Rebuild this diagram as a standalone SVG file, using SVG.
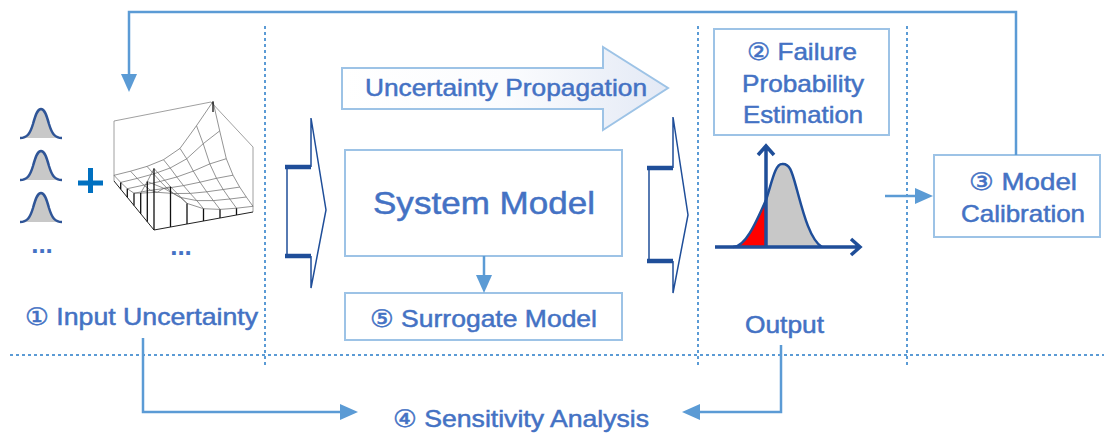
<svg xmlns="http://www.w3.org/2000/svg" width="1104" height="436" viewBox="0 0 1104 436">
<style>
.t{font-family:"Liberation Sans","DejaVu Sans",Arial,sans-serif;fill:#4472c4;stroke:#4472c4;stroke-width:0.5;font-size:24px}
.box{fill:#fff;stroke:#9dc3e6;stroke-width:2}
.conn{fill:none;stroke:#5b9bd5;stroke-width:2.5}
.dot{fill:none;stroke:#5b9bd5;stroke-width:2;stroke-dasharray:3 3}
.chev{fill:none;stroke:#1f4e99;stroke-width:1.5}
.chevb{stroke:#1f4e99;stroke-width:4.5}
.mesh{fill:none;stroke:#666;stroke-width:0.7}
.drop{stroke:#111;stroke-width:1.3}
.dots{font-family:"Liberation Sans",Arial,sans-serif;font-weight:bold;font-size:26px;fill:#4472c4}
</style>
<defs>
<marker id="ah" viewBox="0 0 18 16" refX="0" refY="8" markerWidth="18" markerHeight="16" markerUnits="userSpaceOnUse" orient="auto">
<path d="M0,0 L18,8 L0,16 Z" fill="#5b9bd5"/>
</marker>
<linearGradient id="pg" x1="0" y1="0" x2="1" y2="0">
<stop offset="0" stop-color="#ffffff"/>
<stop offset="0.5" stop-color="#fbfcfe"/>
<stop offset="1" stop-color="#e3e9f5"/>
</linearGradient>
<g id="bell">
<path d="M20,138 C27,138 30,134 33,124 C36,113 38,109 41,109 C44,109 46,113 49,124 C52,134 55,138 62,138 Z" fill="#c8c8c8"/>
<path d="M20,138 C27,138 30,134 33,124 C36,113 38,109 41,109 C44,109 46,113 49,124 C52,134 55,138 62,138" fill="none" stroke="#2f5597" stroke-width="2.5"/>
</g>
<clipPath id="redclip"><rect x="700" y="140" width="66" height="110"/></clipPath>
</defs>

<g id="separators">
<line class="dot" x1="265" y1="26" x2="265" y2="368"/>
<line class="dot" x1="698" y1="26" x2="698" y2="368"/>
<line class="dot" x1="907" y1="26" x2="907" y2="368"/>
<line class="dot" x1="10" y1="355" x2="1104" y2="355"/>
</g>

<g id="input-uncertainty">
<use href="#bell"/>
<use href="#bell" y="42"/>
<use href="#bell" y="84"/>
<text class="dots" x="42" y="253" text-anchor="middle">...</text>
<rect x="78" y="180.5" width="25" height="5" fill="#0070c0"/>
<rect x="88" y="168" width="5" height="25" fill="#0070c0"/>
<g id="surface-plot">
<path d="M114,181 V121 L211,102 L253,147 V212" fill="none" stroke="#888" stroke-width="0.8"/>
<path d="M114,181 L154,230 L253,212" fill="none" stroke="#222" stroke-width="1"/>
<path class="mesh" d="M114,175.3 L130.5,171.2 L147,166.4 L163.5,159.7 L180,148.4 L196.5,125.7 L213,101.5
M120.7,182.4 L137.2,178.4 L153.7,173.9 L170.2,168 L186.7,158.8 L203.2,143.7 L219.7,130.9
M127.3,188.7 L143.8,185.1 L160.3,181.4 L176.8,177 L193.3,171.1 L209.8,163.9 L226.3,158.7
M134,193.2 L150.5,190.3 L167,188.2 L183.5,185.6 L200,182.2 L216.5,178.3 L233,175.2
M140.7,193.1 L157.2,192.3 L173.7,193.5 L190.2,193.4 L206.7,191.8 L223.2,189.5 L239.7,187.1
M147.3,181.5 L163.8,188.3 L180.3,197.4 L196.8,200.6 L213.3,200.6 L229.8,199 L246.3,197
M154,168.5 L170.5,186.7 L187,203.4 L203.5,208.7 L220,209.4 L236.5,208.2 L253,206.3
M114,175.3 L120.7,182.4 L127.3,188.7 L134,193.2 L140.7,193.1 L147.3,181.5 L154,168.5
M130.5,171.2 L137.2,178.4 L143.8,185.1 L150.5,190.3 L157.2,192.3 L163.8,188.3 L170.5,186.7
M147,166.4 L153.7,173.9 L160.3,181.4 L167,188.2 L173.7,193.5 L180.3,197.4 L187,203.4
M163.5,159.7 L170.2,168 L176.8,177 L183.5,185.6 L190.2,193.4 L196.8,200.6 L203.5,208.7
M180,148.4 L186.7,158.8 L193.3,171.1 L200,182.2 L206.7,191.8 L213.3,200.6 L220,209.4
M196.5,125.7 L203.2,143.7 L209.8,163.9 L216.5,178.3 L223.2,189.5 L229.8,199 L236.5,208.2
M213,101.5 L219.7,130.9 L226.3,158.7 L233,175.2 L239.7,187.1 L246.3,197 L253,206.3"/>
<path class="drop" d="M120.7,182.4 V189.2 M127.3,188.7 V197.3 M134,193.2 V205.5 M140.7,193.1 V213.7 M147.3,181.5 V221.8 M154,168.5 V230 M170.5,186.7 V227 M187,203.4 V224 M203.5,208.7 V221 M220,209.4 V218 M236.5,208.2 V215 M213,101.5 V112"/>
</g>
<text class="dots" x="181" y="255" text-anchor="middle">...</text>
<text class="t" x="25" y="325" textLength="233" lengthAdjust="spacingAndGlyphs">① Input Uncertainty</text>
</g>

<g id="in-chevron">
<path class="chev" d="M311,167 V118 L326,210 L311,288 V256"/>
<path class="chev" d="M287,167 V256" stroke-width="1.2"/>
<line class="chevb" x1="285" y1="167" x2="311" y2="167"/>
<line class="chevb" x1="285" y1="256" x2="311" y2="256"/>
</g>

<g id="uncertainty-propagation">
<path d="M342,68 H603 V47 L668,88 L603,130 V109 H342 Z" fill="url(#pg)" stroke="#9dc3e6" stroke-width="2"/>
<text class="t" x="365" y="96" textLength="282" lengthAdjust="spacingAndGlyphs">Uncertainty Propagation</text>
</g>

<g id="system-model">
<rect class="box" x="345" y="150" width="277" height="106"/>
<text class="t" x="373" y="214" style="font-size:32px" textLength="222" lengthAdjust="spacingAndGlyphs">System Model</text>
</g>

<g id="surrogate-model">
<rect class="box" x="345" y="293" width="277" height="47"/>
<text class="t" x="370" y="327" textLength="227" lengthAdjust="spacingAndGlyphs">⑤ Surrogate Model</text>
</g>

<g id="out-chevron">
<path class="chev" d="M673,168 V117 L688,215 L673,293 V261"/>
<path class="chev" d="M649,168 V261" stroke-width="1.2"/>
<line class="chevb" x1="647" y1="168" x2="673" y2="168"/>
<line class="chevb" x1="647" y1="261" x2="673" y2="261"/>
</g>

<g id="failure-probability">
<rect class="box" x="714" y="29" width="175" height="106"/>
<text class="t" x="747" y="60" textLength="110" lengthAdjust="spacingAndGlyphs">② Failure</text>
<text class="t" x="742" y="92" textLength="122" lengthAdjust="spacingAndGlyphs">Probability</text>
<text class="t" x="743" y="123" textLength="120" lengthAdjust="spacingAndGlyphs">Estimation</text>
</g>

<g id="output">
<path d="M733,247 C745,247 755,225 766,200 C772,182 775,164 782,164 C790,163 792,172 797,190 C803,212 810,240 822,247 Z" fill="#c8c8c8"/>
<path d="M733,247 C745,247 755,225 766,200 C772,182 775,164 782,164 C790,163 792,172 797,190 C803,212 810,240 822,247 Z" fill="#ff0000" clip-path="url(#redclip)"/>
<path d="M733,247 C745,247 755,225 766,200 C772,182 775,164 782,164 C790,163 792,172 797,190 C803,212 810,240 822,247" fill="none" stroke="#1f4e99" stroke-width="2.5"/>
<path d="M715,247 H860 M851,239 L860,247 L851,255" fill="none" stroke="#1f4e99" stroke-width="3.5"/>
<path d="M766,247 V146 M758,155 L766,146 L774,155" fill="none" stroke="#1f4e99" stroke-width="3.5"/>
<text class="t" x="745" y="333" textLength="79" lengthAdjust="spacingAndGlyphs">Output</text>
</g>

<g id="model-calibration">
<rect class="box" x="934" y="155" width="166" height="82"/>
<text class="t" x="969" y="190" textLength="108" lengthAdjust="spacingAndGlyphs">③ Model</text>
<text class="t" x="961" y="222" textLength="124" lengthAdjust="spacingAndGlyphs">Calibration</text>
</g>

<g id="sensitivity-analysis">
<text class="t" x="393" y="427" textLength="256" lengthAdjust="spacingAndGlyphs">④ Sensitivity Analysis</text>
</g>

<g id="connectors">
<path class="conn" d="M1016,155 V12 H129 V74" marker-end="url(#ah)"/>
<path class="conn" d="M484,256 V275" marker-end="url(#ah)"/>
<path class="conn" d="M885,196 H915" marker-end="url(#ah)"/>
<path class="conn" d="M143,338 V412 H340" marker-end="url(#ah)"/>
<path class="conn" d="M781,345 V412 H700" marker-end="url(#ah)"/>
</g>
</svg>
